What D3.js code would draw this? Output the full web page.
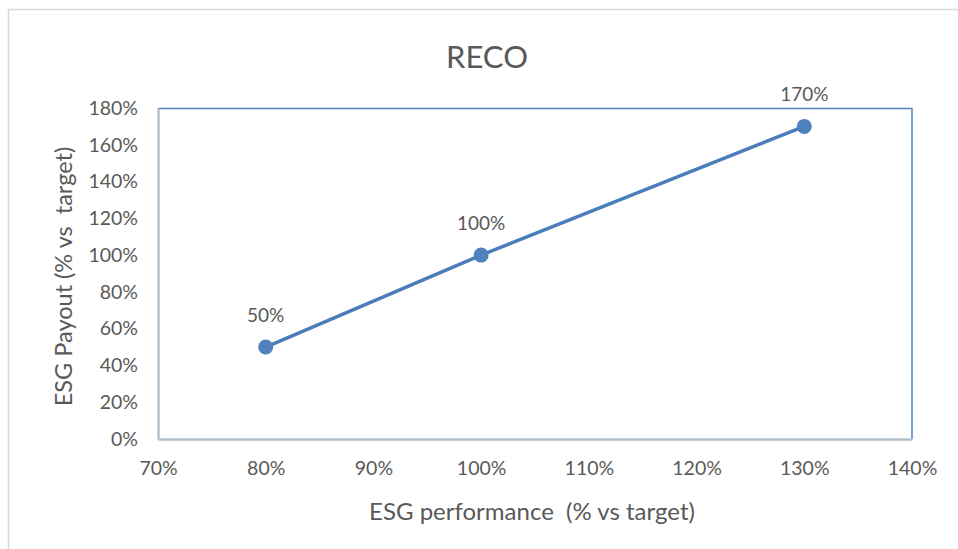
<!DOCTYPE html>
<html>
<head>
<meta charset="utf-8">
<script src="https://cdn.jsdelivr.net/npm/d3@7"></script>
<style>
body { margin: 0; background: #fff; }
svg text { font-family: Lato, "Open Sans", sans-serif; fill: #595959; white-space: pre; }
</style>
</head>
<body>
<svg width="958" height="549"></svg>
<script>
var performance = [80, 100, 130];
var payout = [50, 100, 170];
var labels = ["50%", "100%", "170%"];
var xTicks = [70, 80, 90, 100, 110, 120, 130, 140];
var yTicks = [0, 20, 40, 60, 80, 100, 120, 140, 160, 180];

var svg = d3.select("svg"),
    margin = {top: 108, right: 46, bottom: 110, left: 158},
    width = +svg.attr("width") - margin.left - margin.right,
    height = +svg.attr("height") - margin.top - margin.bottom;

var data = performance.map(function(p, i) { return {x: p, y: payout[i], label: labels[i]}; });

var x = d3.scaleLinear().domain([70, 140]).range([0, width]),
    y = d3.scaleLinear().domain([0, 180]).range([height, 0]);

// chart frame
svg.append("rect")
    .attr("x", 8.5).attr("y", 9.5)
    .attr("width", 1000).attr("height", 600)
    .attr("fill", "none")
    .attr("stroke", "#d9d9d9")
    .attr("stroke-width", 1.5);

svg.append("text")
    .attr("x", 487).attr("y", 68)
    .attr("text-anchor", "middle")
    .style("font-size", "31px")
    .text("RECO");

var g = svg.append("g")
    .attr("transform", "translate(" + margin.left + "," + margin.top + ")");

// top and right border of plot area
g.append("path")
    .attr("d", "M0,0.5H" + width + "V" + height)
    .attr("fill", "none")
    .attr("stroke", "#4f81bd")
    .attr("stroke-width", 1.5);

var xAxis = d3.axisBottom(x).tickValues(xTicks).tickSize(0).tickPadding(22)
    .tickFormat(function(d) { return d + "%"; });
var yAxis = d3.axisLeft(y).tickValues(yTicks).tickSize(0).tickPadding(20)
    .tickFormat(function(d) { return d + "%"; });

var gx = g.append("g")
    .attr("transform", "translate(0," + height + ")")
    .call(xAxis);
var gy = g.append("g").call(yAxis);

[gx, gy].forEach(function(a) {
    a.select(".domain").attr("stroke", "#b4bfcc").attr("stroke-width", 2.5);
    a.selectAll("text").style("font-size", "19.5px").attr("fill", "#595959");
});

svg.append("text")
    .attr("x", 532).attr("y", 520)
    .attr("text-anchor", "middle")
    .style("font-size", "24px")
    .text("ESG performance  (% vs target)");

svg.append("text")
    .attr("transform", "translate(72," + (margin.top + height / 2 + 3) + ") rotate(-90)")
    .attr("text-anchor", "middle")
    .style("font-size", "23.5px")
    .text("ESG Payout (% vs  target)");

var line = d3.line()
    .x(function(d) { return x(d.x); })
    .y(function(d) { return y(d.y); });

g.append("path")
    .datum(data)
    .attr("d", line)
    .attr("fill", "none")
    .attr("stroke", "#4a7ebb")
    .attr("stroke-width", 3.5);

g.selectAll(".dot")
    .data(data)
    .enter().append("circle")
    .attr("class", "dot")
    .attr("cx", function(d) { return x(d.x); })
    .attr("cy", function(d) { return y(d.y); })
    .attr("r", 7.5)
    .attr("fill", "#4f81bd");

g.selectAll(".lbl")
    .data(data)
    .enter().append("text")
    .attr("class", "lbl")
    .attr("x", function(d) { return x(d.x); })
    .attr("y", function(d) { return y(d.y) - 25; })
    .attr("text-anchor", "middle")
    .style("font-size", "19px")
    .attr("fill", "#404040")
    .text(function(d) { return d.label; });
</script>
</body>
</html>
